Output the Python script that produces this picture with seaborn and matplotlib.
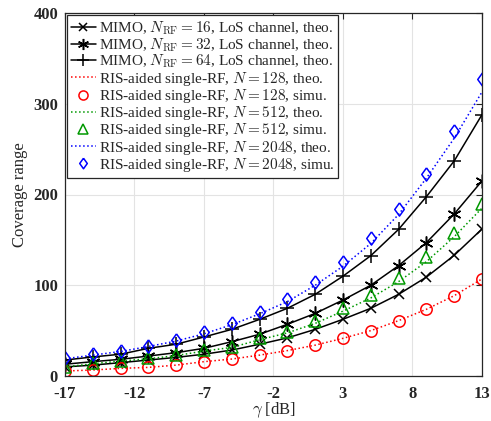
import numpy as np
import matplotlib
matplotlib.use("Agg")
import matplotlib.pyplot as plt
import seaborn as sns

# SNR grid (dB)
gamma = [-17, -15, -13, -11, -9, -7, -5, -3, -1, 1, 3, 5, 7, 9, 11, 13]

# MIMO, LoS channel, theoretical
mimo_16 = [10, 12, 14.7, 17.6, 20.5, 24, 28.6, 35, 42, 51.4, 62.5, 74.6, 90, 109, 133, 162]
mimo_32 = [13, 15.8, 18.4, 22, 25.7, 30.5, 37.8, 46, 57, 69, 83.7, 100, 121.6, 147, 178.5, 215]
mimo_64 = [17.6, 21, 24, 30.5, 35, 43, 51.4, 62.4, 74.6, 90, 110, 132.6, 161.6, 197.6, 237, 288]

# RIS-aided single-RF, theoretical and simulated
ris_128_theo = [5.5, 6.6, 8.4, 9.5, 12, 15.8, 18.7, 23, 28, 34, 41.5, 50, 61, 73.5, 88.5, 107]
ris_128_simu = [5.5, 6.6, 8.4, 9.5, 12, 15.8, 18.7, 23, 28, 34, 41.5, 50, 61, 73.5, 88.5, 107]
ris_512_theo = [10, 13.5, 16.5, 19, 22.5, 27.5, 31.5, 40, 47.5, 58, 71.5, 86, 104, 126, 153.5, 185]
ris_512_simu = [10, 14, 16.9, 19.5, 23, 28.6, 32, 41.5, 48.8, 60.6, 74.6, 89, 107.6, 131, 158, 190]
ris_2048_theo = [19, 23, 27, 32.5, 38.5, 46.5, 56.5, 68.5, 82, 100, 121, 146, 178, 218, 262, 313]
ris_2048_simu = [19.5, 24, 27.5, 33.4, 39.7, 48, 58.7, 70.9, 84.8, 104, 126, 151.7, 184, 223, 270, 327]

xticks = [-17, -12, -7, -2, 3, 8, 13]
yticks = [0, 100, 200, 300, 400]

sns.set_theme(style="white")
plt.rcParams["font.family"] = ["Liberation Serif", "DejaVu Serif"]
plt.rcParams["mathtext.fontset"] = "cm"

fig = plt.figure(figsize=(4.91, 4.21), dpi=100)
ax = fig.add_axes([65 / 491, 1 - 376 / 421, (482 - 65) / 491, (376 - 13) / 421])

green = "#009900"
lw = 1.1
mew = 1.1
diamond = [(0, 1), (0.72, 0), (0, -1), (-0.72, 0), (0, 1)]

sns.lineplot(x=gamma, y=mimo_16, ax=ax, color="black", lw=lw, marker="x", markersize=7,
             markeredgewidth=mew, markeredgecolor="black",
             label=r"MIMO, $N_{\mathrm{RF}}=16$, LoS channel, theo.")
sns.lineplot(x=gamma, y=mimo_32, ax=ax, color="black", lw=lw, marker=(6, 2, 0), markersize=10,
             markeredgewidth=mew, markeredgecolor="black",
             label=r"MIMO, $N_{\mathrm{RF}}=32$, LoS channel, theo.")
sns.lineplot(x=gamma, y=mimo_64, ax=ax, color="black", lw=lw, marker="+", markersize=10,
             markeredgewidth=mew, markeredgecolor="black",
             label=r"MIMO, $N_{\mathrm{RF}}=64$, LoS channel, theo.")

sns.lineplot(x=gamma, y=ris_128_theo, ax=ax, color="red", lw=1.1, linestyle=":",
             label=r"RIS-aided single-RF, $N=128$, theo.")
sns.lineplot(x=gamma, y=ris_128_simu, ax=ax, color="red", linestyle="none", marker="o",
             markersize=8.2, markerfacecolor="none", markeredgecolor="red", markeredgewidth=mew,
             label=r"RIS-aided single-RF, $N=128$, simu.")
sns.lineplot(x=gamma, y=ris_512_theo, ax=ax, color=green, lw=1.1, linestyle=":",
             label=r"RIS-aided single-RF, $N=512$, theo.")
sns.lineplot(x=gamma, y=ris_512_simu, ax=ax, color=green, linestyle="none", marker="^",
             markersize=8.6, markerfacecolor="none", markeredgecolor=green, markeredgewidth=mew,
             label=r"RIS-aided single-RF, $N=512$, simu.")
sns.lineplot(x=gamma, y=ris_2048_theo, ax=ax, color="blue", lw=1.1, linestyle=":",
             label=r"RIS-aided single-RF, $N=2048$, theo.")
sns.lineplot(x=gamma, y=ris_2048_simu, ax=ax, color="blue", linestyle="none", marker=diamond,
             markersize=9.5, markerfacecolor="none", markeredgecolor="blue", markeredgewidth=mew,
             label=r"RIS-aided single-RF, $N=2048$, simu.")

ax.set_xlim(-17, 13)
ax.set_ylim(0, 400)
ax.set_xticks(xticks)
ax.set_yticks(yticks)
ax.set_xticklabels([str(t) for t in xticks], fontweight="bold", fontsize=12)
ax.set_yticklabels([str(t) for t in yticks], fontweight="bold", fontsize=12)
ax.tick_params(direction="in", top=True, right=True, length=4, width=0.8, colors="#262626")
ax.tick_params(axis="x", pad=7)
ax.tick_params(axis="y", pad=5)
ax.grid(True, color="#e3e3e3", lw=0.8)
ax.set_axisbelow(True)
for s in ax.spines.values():
    s.set_color("#262626")
    s.set_linewidth(0.9)

ax.set_xlabel(r"$\gamma$ [dB]", fontsize=12, color="#262626", labelpad=-1)
ax.set_ylabel("Coverage range", fontsize=12, color="#262626", labelpad=4)

leg = ax.legend(loc="upper left", fontsize=11, frameon=True, fancybox=False, framealpha=1,
                edgecolor="#262626", handlelength=1.6, handletextpad=0.2, labelspacing=-0.05,
                borderpad=0.25, borderaxespad=0.15, markerscale=0.8)
leg.get_frame().set_linewidth(0.9)

fig.savefig("out.png", dpi=100)
